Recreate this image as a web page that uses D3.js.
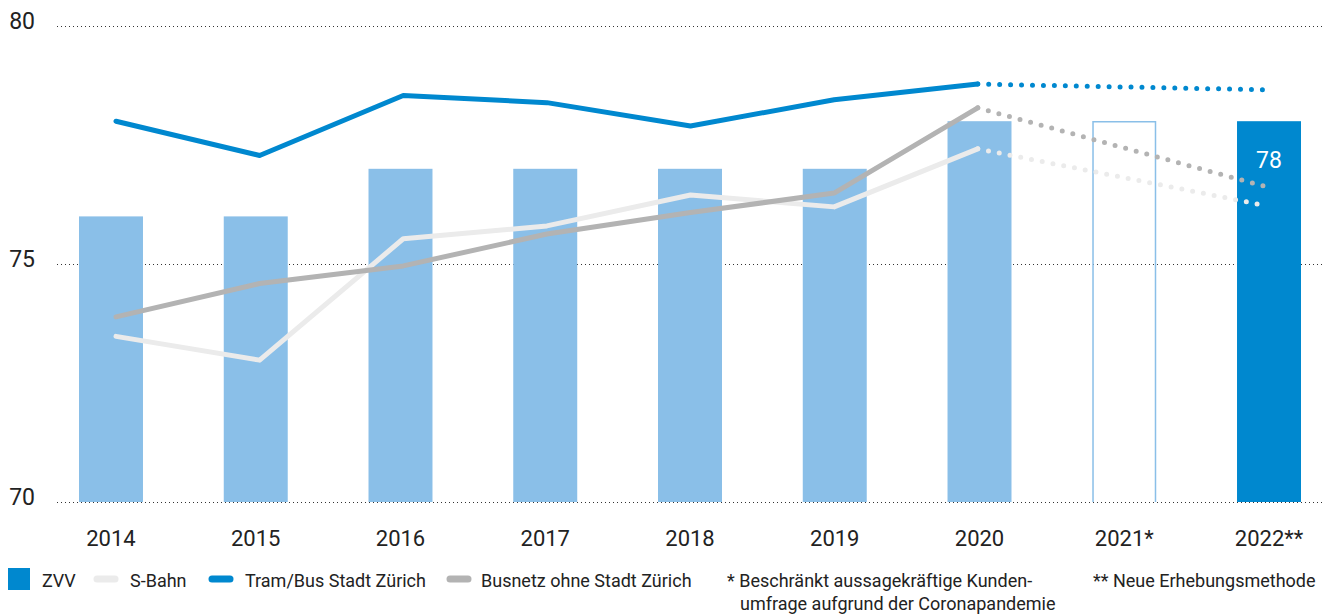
<!DOCTYPE html>
<html>
<head>
<meta charset="utf-8">
<script src="https://cdn.jsdelivr.net/npm/d3@7"></script>
<style>
  html, body { margin: 0; padding: 0; background: #fff; }
  svg { display: block; font-family: "Roboto", "Noto Sans", sans-serif; }
</style>
</head>
<body>
<svg id="chart" width="1337" height="615"></svg>
<script>
// Customer satisfaction index, 2014–2022
const years = ["2014", "2015", "2016", "2017", "2018", "2019", "2020", "2021", "2022"];
const yearLabels = ["2014", "2015", "2016", "2017", "2018", "2019", "2020", "2021*", "2022**"];
const zvv = [76, 76, 77, 77, 77, 77, 78, 78, 78];
const sBahn = [73.48, 72.98, 75.53, 75.8, 76.45, 76.2, 77.42, null, 76.23];
const tramBus = [78.0, 77.28, 78.54, 78.39, 77.9, 78.45, 78.78, null, 78.66];
const busnetz = [73.89, 74.59, 74.96, 75.63, 76.08, 76.49, 78.28, null, 76.63];
const yTicks = [70, 75, 80];

const colors = {
  bar: "#8abfe8",
  barDark: "#0088cf",
  tram: "#0088cf",
  sBahn: "#ebebeb",
  busnetz: "#b3b3b3",
  text: "#222"
};

const svg = d3.select("#chart");

const y = d3.scaleLinear().domain([70, 80]).range([502, 26]);
const x = d3.scaleBand().domain(years).range([79, 1301]).paddingInner(0.558).paddingOuter(0);
const xp = d3.scalePoint().domain(years).range([116, 1265]);

// horizontal dotted grid + y labels
const yAxis = d3.axisLeft(y).tickValues(yTicks).tickSize(0).tickPadding(0);
const gy = svg.append("g").attr("transform", "translate(35,0)").call(yAxis);
gy.select(".domain").remove();
gy.selectAll("text")
  .attr("fill", colors.text)
  .attr("font-size", 23)
  .attr("font-family", "Roboto, sans-serif")
  .attr("dy", "0.1em")
  .attr("text-anchor", "end");

svg.append("g").selectAll("line").data(yTicks).join("line")
  .attr("x1", 57).attr("x2", 1324)
  .attr("y1", d => Math.round(y(d)) + 0.5).attr("y2", d => Math.round(y(d)) + 0.5)
  .attr("stroke", "#333").attr("stroke-width", 1).attr("stroke-dasharray", "1 3");

// bars (2021 drawn as an open outline)
const barData = years.map((yr, i) => ({ yr, v: zvv[i], i }));
svg.append("g").selectAll("rect").data(barData.filter(d => d.yr !== "2021")).join("rect")
  .attr("x", d => x(d.yr))
  .attr("y", d => y(d.v))
  .attr("width", x.bandwidth())
  .attr("height", d => y(70) - y(d.v))
  .attr("fill", d => d.yr === "2022" ? colors.barDark : colors.bar);

const open = barData.find(d => d.yr === "2021");
const ox0 = x(open.yr) + 0.75, ox1 = x(open.yr) + x.bandwidth() - 0.75;
svg.append("path")
  .attr("d", `M${ox0},${y(70)}V${y(open.v) + 0.5}H${ox1}V${y(70)}`)
  .attr("fill", "none")
  .attr("stroke", colors.bar)
  .attr("stroke-width", 1.5);

// value label inside the last bar
svg.append("text")
  .attr("x", x("2022") + x.bandwidth() / 2)
  .attr("y", y(zvv[8]) + 47)
  .attr("text-anchor", "middle")
  .attr("fill", "#fff")
  .attr("font-size", 23)
  .text(zvv[8]);

// x axis labels
const xAxis = d3.axisBottom(x).tickSize(0).tickPadding(0).tickFormat((d, i) => yearLabels[i]);
const gx = svg.append("g").attr("transform", "translate(0,546)").call(xAxis);
gx.select(".domain").remove();
gx.selectAll("text")
  .attr("fill", colors.text)
  .attr("font-size", 22)
  .attr("font-family", "Roboto, sans-serif")
  .attr("dy", 0)
  .attr("y", 0);

// lines: solid for 2014–2020, dotted bridge to 2022
function drawSeries(vals, color) {
  const solid = vals.slice(0, 7).map((v, i) => [xp(years[i]), y(v)]);
  const dotted = [[xp("2020"), y(vals[6])], [xp("2022"), y(vals[8])]];
  const line = d3.line();
  svg.append("path")
    .attr("d", line(solid))
    .attr("fill", "none")
    .attr("stroke", color)
    .attr("stroke-width", 5)
    .attr("stroke-linecap", "round")
    .attr("stroke-linejoin", "round");
  svg.append("path")
    .attr("d", line(dotted))
    .attr("fill", "none")
    .attr("stroke", color)
    .attr("stroke-width", 5)
    .attr("stroke-linecap", "round")
    .attr("stroke-dasharray", "0 10.95");
}
drawSeries(sBahn, colors.sBahn);
drawSeries(busnetz, colors.busnetz);
drawSeries(tramBus, colors.tram);

// legend
const legend = svg.append("g").attr("font-size", 18).attr("fill", colors.text);
legend.append("rect").attr("x", 8).attr("y", 568).attr("width", 22).attr("height", 22).attr("fill", colors.barDark);
legend.append("text").attr("x", 42).attr("y", 587).text("ZVV");

const pills = [
  { x: 97, label: "S-Bahn", tx: 130, color: colors.sBahn },
  { x: 212, label: "Tram/Bus Stadt Zürich", tx: 245, color: colors.tram },
  { x: 450, label: "Busnetz ohne Stadt Zürich", tx: 481, color: colors.busnetz }
];
pills.forEach(p => {
  legend.append("line")
    .attr("x1", p.x).attr("x2", p.x + 18).attr("y1", 579).attr("y2", 579)
    .attr("stroke", p.color).attr("stroke-width", 7).attr("stroke-linecap", "round");
  legend.append("text").attr("x", p.tx).attr("y", 587).text(p.label);
});

legend.append("text").attr("x", 727).attr("y", 587).text("* Beschränkt aussagekräftige Kunden-");
legend.append("text").attr("x", 740).attr("y", 610).text("umfrage aufgrund der Coronapandemie");
legend.append("text").attr("x", 1093).attr("y", 587).text("** Neue Erhebungsmethode");
</script>
</body>
</html>
